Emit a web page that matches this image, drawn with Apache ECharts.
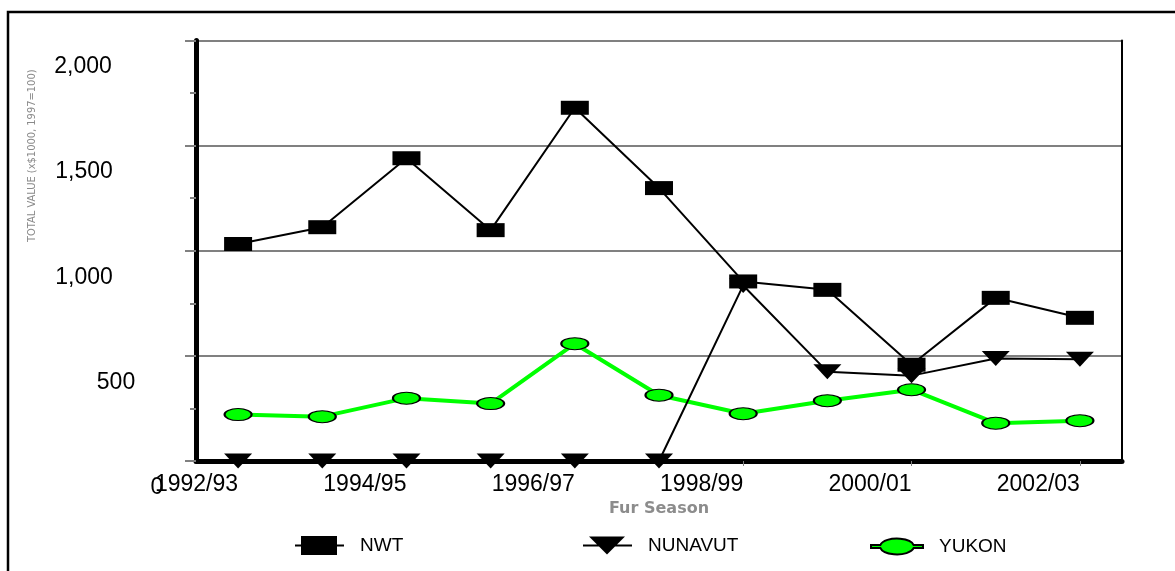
<!DOCTYPE html>
<html>
<head>
<meta charset="utf-8">
<script src="https://cdn.jsdelivr.net/npm/echarts@6/dist/echarts.min.js"></script>
<style>
  html, body { margin: 0; padding: 0; background: #fff; }
  #chart { width: 1175px; height: 571px; }
</style>
</head>
<body>
<div id="chart"></div>
<script>
// fur seasons
var seasons = ['1992/93', '1993/94', '1994/95', '1995/96', '1996/97', '1997/98',
               '1998/99', '1999/00', '2000/01', '2001/02', '2002/03'];

// total value (x$1000, 1997=100)
var nwt     = [1032, 1112, 1440, 1098, 1680, 1298, 854, 814, 458, 776, 681];
var nunavut = [0, 0, 0, 0, 0, 0, 835, 425, 406, 488, 484];
var yukon   = [221, 211, 299, 273, 558, 313, 225, 287, 339, 180, 192];

var yTicks = [0, 500, 1000, 1500, 2000];

var FONT = 'Liberation Sans, Arial, sans-serif';
var AXIS_X = 196;
// the old chart has its value labels pushed down and wandering sideways
var yLabelCenter = [157, 116, 84, 84, 83];

function commas(v) {
    return String(v).replace(/\B(?=(\d{3})+(?!\d))/g, ',');
}

var yRich = {};
yTicks.forEach(function (v, i) {
    yRich['t' + i] = {
        fontSize: 23,
        fontFamily: FONT,
        color: '#000',
        padding: [53, 2 * (AXIS_X - yLabelCenter[i]), 0, 0]
    };
});

var option = {
    backgroundColor: '#fff',
    animation: false,
    graphic: [{
        type: 'rect',
        shape: { x: 8, y: 12, width: 1300, height: 700 },
        style: { fill: 'none', stroke: '#000', lineWidth: 2.5 },
        z: -10
    }],
    grid: {
        left: AXIS_X, right: 53, top: 40.5, bottom: 110,
        outerBoundsMode: 'none'
    },
    legend: [
        {
            data: [{ name: 'NWT', icon: 'path://M0,8.5 L6,8.5 L6,0 L42,0 L42,8.5 L49,8.5 L49,10.5 L42,10.5 L42,19 L6,19 L6,10.5 L0,10.5 Z' }],
            left: 295, top: 536, itemWidth: 49, itemHeight: 19
        },
        {
            data: [{ name: 'NUNAVUT', icon: 'path://M0,8 L14,8 L6,0 L42,0 L34,8 L49,8 L49,10 L32,10 L24,18 L16,10 L0,10 Z' }],
            left: 583, top: 536, itemWidth: 49, itemHeight: 18
        },
        {
            data: [{ name: 'YUKON', icon: 'path://M0,6.5 L9.3,6.5 A17,8 0 0,1 42.7,6.5 L52,6.5 L52,9.5 L42.7,9.5 A17,8 0 0,1 9.3,9.5 L0,9.5 Z' }],
            left: 870, top: 537, itemWidth: 52, itemHeight: 16
        }
    ].map(function (l) {
        l.padding = 0;
        l.selectedMode = false;
        l.textStyle = { fontSize: 19, fontFamily: FONT, color: '#000', padding: [0, 0, 0, 11] };
        return l;
    }),
    xAxis: {
        type: 'category',
        data: seasons,
        boundaryGap: true,
        name: 'Fur Season',
        nameLocation: 'middle',
        nameGap: 37,
        nameTextStyle: { fontFamily: 'DejaVu Sans', fontWeight: 'bold', fontSize: 16, color: '#8c8c8c' },
        axisLine: { lineStyle: { color: '#000', width: 5 } },
        axisTick: { show: true, alignWithLabel: true, interval: 1, length: 5, lineStyle: { color: '#808080', width: 1 } },
        axisLabel: { interval: 1, align: 'right', margin: 12, fontSize: 23, fontFamily: FONT, color: '#000' },
        splitLine: { show: false }
    },
    yAxis: [
        {
            type: 'value',
            min: yTicks[0],
            max: yTicks[yTicks.length - 1],
            interval: yTicks[1] - yTicks[0],
            name: 'TOTAL VALUE (x$1000, 1997=100)',
            nameLocation: 'middle',
            nameRotate: 90,
            nameGap: 158,
            nameTextStyle: {
                fontFamily: 'DejaVu Sans Condensed, sans-serif',
                fontSize: 11, color: '#8a8a8a', padding: [0, 0, 0, 190]
            },
            axisLine: { show: true, lineStyle: { color: '#000', width: 5 } },
            axisTick: { show: true, length: 11, lineStyle: { color: '#808080', width: 2 } },
            minorTick: { show: true, splitNumber: 2, length: 6, lineStyle: { color: '#808080', width: 2 } },
            axisLabel: {
                margin: 0,
                align: 'center',
                verticalAlign: 'middle',
                formatter: function (v) {
                    return '{t' + yTicks.indexOf(v) + '|' + commas(v) + '}';
                },
                rich: yRich
            },
            splitLine: { show: true, lineStyle: { color: '#808080', width: 2 } }
        },
        {
            type: 'value',
            position: 'right',
            min: yTicks[0],
            max: yTicks[yTicks.length - 1],
            interval: yTicks[1] - yTicks[0],
            axisLine: { show: true, lineStyle: { color: '#000', width: 2 } },
            axisTick: { show: false },
            axisLabel: { show: false },
            splitLine: { show: false }
        }
    ],
    series: [
        {
            name: 'NWT',
            type: 'line',
            data: nwt,
            symbol: 'rect',
            symbolSize: [28, 14],
            lineStyle: { color: '#000', width: 2 },
            itemStyle: { color: '#000' },
            clip: false,
            z: 4,
            emphasis: { disabled: true }
        },
        {
            name: 'NUNAVUT',
            type: 'line',
            data: nunavut,
            symbol: 'path://M0,0 L28,0 L14,15 Z',
            symbolSize: [28, 15],
            lineStyle: { color: '#000', width: 2 },
            itemStyle: { color: '#000' },
            clip: false,
            z: 3,
            emphasis: { disabled: true }
        },
        {
            name: 'YUKON',
            type: 'line',
            data: yukon,
            symbol: 'path://M0,6 A13.5,6 0 1,1 27,6 A13.5,6 0 1,1 0,6 Z',
            symbolSize: [27, 12],
            lineStyle: { color: '#00ff00', width: 4 },
            itemStyle: { color: '#00ff00', borderColor: '#000', borderWidth: 1.5 },
            clip: false,
            z: 2,
            emphasis: { disabled: true }
        }
    ]
};

var chart = echarts.init(document.getElementById('chart'));
chart.setOption(option);
</script>
</body>
</html>
